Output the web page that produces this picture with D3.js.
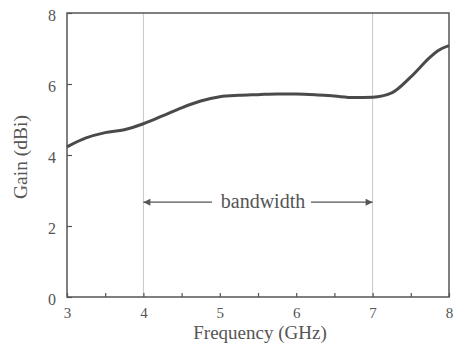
<!DOCTYPE html>
<html>
<head>
<meta charset="utf-8">
<script src="https://cdn.jsdelivr.net/npm/d3@7"></script>
<style>
  body { margin: 0; background: #fff; }
  svg text { font-family: "Liberation Serif", "DejaVu Serif", serif; fill: #555; }
</style>
</head>
<body>
<svg id="chart"></svg>
<script>
var freq = [3, 3.25, 3.5, 3.75, 4, 4.25, 4.5, 4.75, 5, 5.25, 5.5, 5.75, 6, 6.25, 6.5, 6.75, 7, 7.25, 7.5, 7.75, 7.85, 8];
var gain = [4.23, 4.48, 4.63, 4.71, 4.88, 5.1, 5.33, 5.52, 5.64, 5.68, 5.7, 5.72, 5.72, 5.7, 5.66, 5.62, 5.63, 5.75, 6.2, 6.75, 6.93, 7.08];
var xTicks = [3, 4, 5, 6, 7, 8];
var xMinor = [3.5, 4.5, 5.5, 6.5, 7.5];
var yTicks = [0, 2, 4, 6, 8];
var bandEdges = [4, 7];

var width = 456, height = 345;
var margin = { left: 67, right: 7, top: 13, bottom: 48 };
var serif = '"Liberation Serif", "DejaVu Serif", serif';

var svg = d3.select('#chart').attr('width', width).attr('height', height);

var x = d3.scaleLinear().domain([3, 8]).range([margin.left, width - margin.right]);
var y = d3.scaleLinear().domain([0, 8]).range([height - margin.bottom, margin.top]);

var axisColor = '#555';

// band guide lines
svg.selectAll('.band')
    .data(bandEdges)
    .enter()
    .append('line')
    .attr('class', 'band')
    .attr('x1', function(d) { return x(d); })
    .attr('x2', function(d) { return x(d); })
    .attr('y1', y(8))
    .attr('y2', y(0))
    .attr('stroke', '#c8c8c8')
    .attr('stroke-width', 1);

// frame
svg.append('rect')
    .attr('x', x(3))
    .attr('y', y(8))
    .attr('width', x(8) - x(3))
    .attr('height', y(0) - y(8))
    .attr('fill', 'none')
    .attr('stroke', axisColor)
    .attr('stroke-width', 1.5);

// x axis (ticks inward)
var xAxis = svg.append('g')
    .attr('transform', 'translate(0,' + y(0) + ')')
    .call(d3.axisBottom(x).tickValues(xTicks.concat(xMinor)).tickSizeInner(-4).tickSizeOuter(0)
        .tickFormat(function(d) { return xTicks.indexOf(d) >= 0 ? d : ''; }));
xAxis.attr('font-family', serif).attr('font-size', 15);
xAxis.select('.domain').remove();
xAxis.selectAll('line').attr('stroke', axisColor).attr('stroke-width', 1.2);
xAxis.selectAll('text').attr('y', 10).attr('dy', '0.71em');

// y axis (ticks inward)
var yAxis = svg.append('g')
    .attr('transform', 'translate(' + x(3) + ',0)')
    .call(d3.axisLeft(y).tickValues(yTicks).tickSizeInner(-5).tickSizeOuter(0));
yAxis.attr('font-family', serif).attr('font-size', 16);
yAxis.select('.domain').remove();
yAxis.selectAll('line').attr('stroke', axisColor).attr('stroke-width', 1.2);
yAxis.selectAll('text').attr('x', -11).attr('dy', '0.45em');

// gain curve
var line = d3.line()
    .x(function(d, i) { return x(freq[i]); })
    .y(function(d) { return y(d); })
    .curve(d3.curveMonotoneX);

svg.append('path')
    .datum(gain)
    .attr('d', line)
    .attr('fill', 'none')
    .attr('stroke', '#4a4a4a')
    .attr('stroke-width', 3)
    .attr('stroke-linejoin', 'round');

// bandwidth arrows
var defs = svg.append('defs');
defs.append('marker')
    .attr('id', 'arrow')
    .attr('viewBox', '0 0 10 10')
    .attr('refX', 10).attr('refY', 5)
    .attr('markerWidth', 10).attr('markerHeight', 7)
    .attr('markerUnits', 'userSpaceOnUse')
    .attr('orient', 'auto')
    .append('path')
    .attr('d', 'M0,0 L10,5 L0,10 Z')
    .attr('fill', '#555');

var arrowY = y(2.67);
svg.append('line')
    .attr('x1', 212).attr('x2', x(4))
    .attr('y1', arrowY).attr('y2', arrowY)
    .attr('stroke', '#555').attr('stroke-width', 1.2)
    .attr('marker-end', 'url(#arrow)');
svg.append('line')
    .attr('x1', 311).attr('x2', x(7))
    .attr('y1', arrowY).attr('y2', arrowY)
    .attr('stroke', '#555').attr('stroke-width', 1.2)
    .attr('marker-end', 'url(#arrow)');
svg.append('text')
    .attr('x', 263)
    .attr('y', arrowY + 6)
    .attr('text-anchor', 'middle')
    .style('font-size', '20px')
    .text('bandwidth');

// axis titles
svg.append('text')
    .attr('x', 260)
    .attr('y', 339)
    .attr('text-anchor', 'middle')
    .style('font-size', '19px')
    .text('Frequency (GHz)');

svg.append('text')
    .attr('transform', 'translate(27,157) rotate(-90)')
    .attr('text-anchor', 'middle')
    .style('font-size', '19.5px')
    .text('Gain (dBi)');
</script>
</body>
</html>
